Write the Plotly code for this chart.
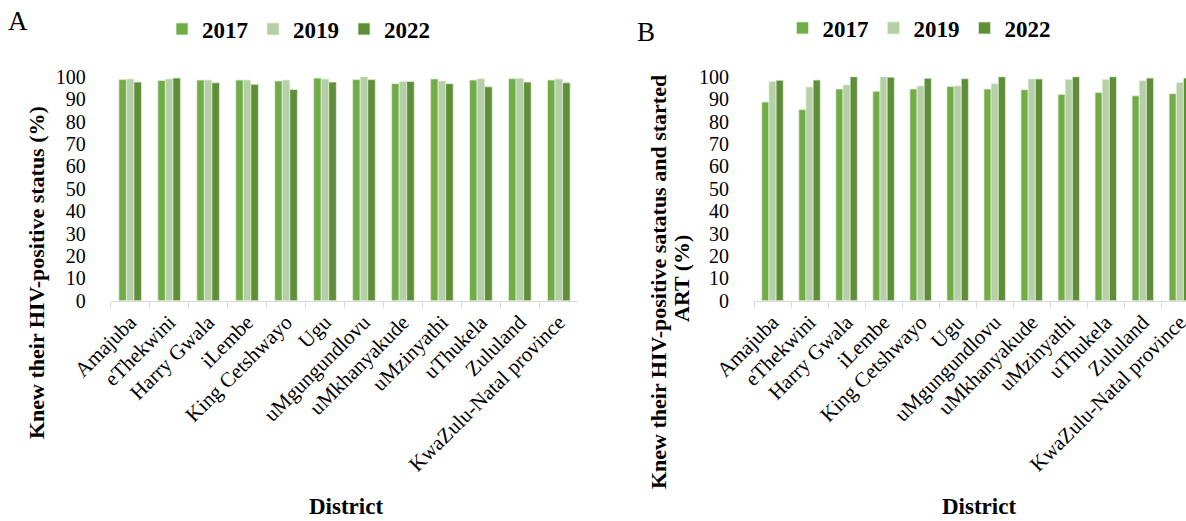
import plotly.graph_objects as go

W, H = 1186, 521

districts = ["Amajuba", "eThekwini", "Harry Gwala", "iLembe", "King Cetshwayo", "Ugu",
             "uMgungundlovu", "uMkhanyakude", "uMzinyathi", "uThukela", "Zululand",
             "KwaZulu-Natal province"]
years = ["2017", "2019", "2022"]

# Panel A: knew their HIV-positive status (%)
a_2017 = [98.7, 98.3, 98.5, 98.5, 98.1, 99.4, 98.7, 96.9, 99.0, 98.5, 99.1, 98.5]
a_2019 = [99.0, 99.0, 98.5, 98.5, 98.5, 99.0, 100.0, 97.9, 98.1, 99.1, 99.3, 99.0]
a_2022 = [97.6, 99.4, 97.3, 96.6, 94.3, 97.6, 98.7, 97.9, 96.9, 95.5, 97.6, 97.3]

# Panel B: knew their HIV-positive status and started ART (%)
b_2017 = [88.7, 85.3, 94.5, 93.5, 94.5, 95.6, 94.5, 94.2, 92.1, 92.9, 91.5, 92.4]
b_2019 = [97.9, 95.4, 96.3, 100.0, 95.9, 95.9, 96.9, 99.0, 98.7, 98.8, 98.2, 97.4]
b_2022 = [98.4, 98.5, 100.0, 99.8, 99.3, 99.1, 100.0, 99.0, 100.0, 100.0, 99.4, 99.4]

colors = ["#70AD47", "#B5CFA6", "#5E8F38"]
SERIF = "Liberation Serif"

fig = go.Figure()
for name, vals, col in zip(years, [a_2017, a_2019, a_2022], colors):
    fig.add_trace(go.Bar(x=districts, y=vals, name=name, marker_color=col,
                         marker_line=dict(color="#E4EEDC", width=0.75),
                         xaxis="x", yaxis="y", legend="legend"))
for name, vals, col in zip(years, [b_2017, b_2019, b_2022], colors):
    fig.add_trace(go.Bar(x=districts, y=vals, name=name, marker_color=col,
                         marker_line=dict(color="#E4EEDC", width=0.75),
                         xaxis="x2", yaxis="y2", legend="legend2"))

ydom = [1 - 300.7 / H, 1 - 76.7 / H]
xax = dict(showline=True, linecolor="#D9D9D9", linewidth=1, ticks="outside",
           tickson="boundaries", ticklen=6, tickcolor="#D9D9D9", tickangle=-45,
           tickfont=dict(family=SERIF, size=21, color="black"), showgrid=False,
           zeroline=False, automargin=False)
yax = dict(range=[0, 100], dtick=10, showgrid=False, zeroline=False, showline=False,
           ticks="outside", ticklen=20, tickcolor="rgba(0,0,0,0)", automargin=False,
           tickfont=dict(family=SERIF, size=20, color="black"))

fig.update_layout(
    width=W, height=H, margin=dict(l=0, r=0, t=0, b=0, autoexpand=False),
    paper_bgcolor="white", plot_bgcolor="white",
    barmode="group", bargap=0.42, bargroupgap=0,
    xaxis=dict(domain=[110.7 / W, 578.3 / W], anchor="y", range=[-0.5, 11.5], **xax),
    yaxis=dict(domain=ydom, anchor="x", **yax),
    xaxis2=dict(domain=[754 / W, 1.0], anchor="y2", range=[-0.5, -0.5 + 432 / 37.03], **xax),
    yaxis2=dict(domain=ydom, anchor="x2", **yax),
    legend=dict(orientation="h", x=(188 - 14 - 12) / W, xanchor="left", y=1 - 29 / H,
                yanchor="middle",
                font=dict(family=SERIF, size=23, color="black", weight="bold")),
    legend2=dict(orientation="h", x=(808.5 - 14 - 12) / W, xanchor="left", y=1 - 28 / H,
                 yanchor="middle",
                 font=dict(family=SERIF, size=23, color="black", weight="bold")),
    font=dict(family=SERIF, color="black"),
)

def ann(text, x, y, size, bold=False, angle=0, yanchor="middle"):
    fig.add_annotation(text=text, x=x / W, y=1 - y / H, xref="paper", yref="paper",
                       showarrow=False, textangle=angle, xanchor="center", yanchor=yanchor,
                       font=dict(family=SERIF, size=size, color="black",
                                 weight="bold" if bold else "normal"))

ann("A", 17.7, 21, 27)
ann("B", 646, 32, 27)
ann("Knew their HIV-positive status (%)", 36, 273, 22, bold=True, angle=-90)
ann("Knew their HIV-positive satatus and started", 658, 282, 22, bold=True, angle=-90)
ann("ART (%)", 681, 279, 22, bold=True, angle=-90)
ann("District", 345.6, H, 23, bold=True, yanchor="bottom")
ann("District", 978.5, H, 23, bold=True, yanchor="bottom")

fig.write_html("out.html", config={"displayModeBar": False},
               post_script="document.body.style.margin='0';document.body.style.padding='0';")
